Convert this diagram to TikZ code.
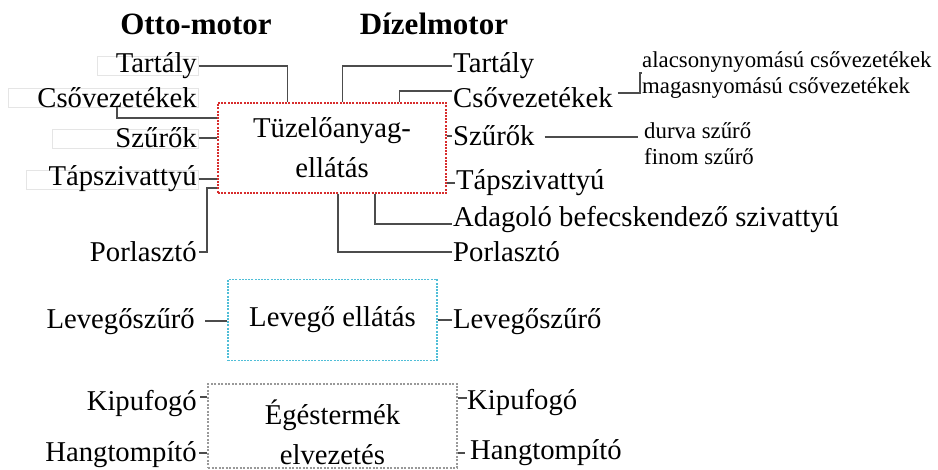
\documentclass[tikz,border=0pt]{standalone}
\usepackage{fontspec}
\setmainfont{Liberation Serif}
\begin{document}
\begin{tikzpicture}[x=1pt,y=-1pt,
  lbl/.style={inner sep=0pt, font=\fontsize{28.7}{40}\selectfont},
  sml/.style={inner sep=0pt, font=\fontsize{22.8}{26}\selectfont},
  ttl/.style={inner sep=0pt, font=\fontsize{31}{36}\selectfont\bfseries},
  conn/.style={draw=black!70, line width=1.1pt},
  ghost/.style={draw=black!10, line width=0.8pt},
  redbox/.style={draw={rgb,255:red,215;green,45;blue,45}, line width=1.4pt, dash pattern=on 2pt off 1.2pt, inner sep=0pt, align=center, font=\fontsize{28.7}{40}\selectfont},
  bluebox/.style={draw={rgb,255:red,80;green,190;blue,215}, line width=1.4pt, dash pattern=on 2pt off 1.2pt, inner sep=0pt, align=center, font=\fontsize{28.7}{40}\selectfont},
  graybox/.style={draw=black!40, line width=1.1pt, dash pattern=on 2pt off 1.5pt, inner sep=0pt},
]
\useasboundingbox (0,0) rectangle (938,470);

% titles
\node[ttl] (tOtto) at (196,24) {Otto-motor};
\node[ttl] (tDiz) at (434,24) {Dízelmotor};

% faint frames of left labels
\draw[ghost] (97,56) rectangle (198,75);
\draw[ghost] (8,88) rectangle (198,107);
\draw[ghost] (52,129) rectangle (198,148);
\draw[ghost] (26,170) rectangle (198,189);

% main boxes
\node[redbox, minimum width=228pt, minimum height=90pt] (fuel) at (332,148) {Tüzelőanyag-\\ellátás};
\node[bluebox, minimum width=209pt, minimum height=81pt] (air) at (332.5,320) {Levegő ellátás};
\node[graybox, minimum width=249pt, minimum height=84pt] (exh) at (332.5,426) {};
\node[lbl, align=center] (exhtxt) at (332.5,432) {Égéstermék\\elvezetés};

% left labels
\node[lbl, anchor=east] (lTart) at (197,66) {Tartály};
\node[lbl, anchor=east] (lCso) at (197,98) {Csővezetékek};
\node[lbl, anchor=east] (lSzu) at (197,138) {Szűrők};
\node[lbl, anchor=east] (lTap) at (197,179) {Tápszivattyú};
\node[lbl, anchor=east] (lPor) at (197,252) {Porlasztó};
\node[lbl, anchor=east] (lLev) at (195,322) {Levegőszűrő};
\node[lbl, anchor=east] (lKip) at (197,403) {Kipufogó};
\node[lbl, anchor=east] (lHang) at (197,455) {Hangtompító};

% right labels
\node[lbl, anchor=west] (rTart) at (453,66) {Tartály};
\node[lbl, anchor=west] (rCso) at (453,98) {Csővezetékek};
\node[lbl, anchor=west] (rSzu) at (453,136) {Szűrők};
\node[lbl, anchor=west] (rTap) at (456,183) {Tápszivattyú};
\node[lbl, anchor=west] (rAdag) at (453,219) {Adagoló befecskendező szivattyú};
\node[lbl, anchor=west] (rPor) at (453,252) {Porlasztó};
\node[lbl, anchor=west] (rLev) at (453,322) {Levegőszűrő};
\node[lbl, anchor=west] (rKip) at (467,402) {Kipufogó};
\node[lbl, anchor=west] (rHang) at (470,453) {Hangtompító};

% sub labels
\node[sml, anchor=west] (sAlac) at (642,62) {alacsonynyomású csővezetékek};
\node[sml, anchor=west] (sMag) at (642,88) {magasnyomású csővezetékek};
\node[sml, anchor=west] (sDur) at (644,131) {durva szűrő};
\node[sml, anchor=west] (sFin) at (644,157) {finom szűrő};

% helper coordinates
\coordinate (cCsoL) at (117,107);
\coordinate (yCso) at (0,118);
\coordinate (cPorL) at (207,188);
\coordinate (cAdag) at (375,224);
\coordinate (cPorR) at (338,252);
\coordinate (cCsoBend) at (640,93);
\coordinate (cCsoTop) at (640,73);
\coordinate (cSzuEnd) at (638,137);

% left connectors (fuel)
\draw[conn] ([xshift=2pt]lTart.east) -| ([xshift=70pt]fuel.north west);
\draw[conn] (cCsoL) |- (fuel.west |- yCso);
\draw[conn] ([xshift=2pt]lSzu.east) -- (lSzu.east -| fuel.west);
\draw[conn] ([xshift=2pt]lTap.east) -- (lTap.east -| fuel.west);
\draw[conn] ([xshift=2pt]lPor.east) -| (cPorL) -- (fuel.west |- cPorL);

% right connectors (fuel)
\draw[conn] ([xshift=-1pt]rTart.west) -| ([xshift=125pt]fuel.north west);
\draw[conn] ([xshift=-1pt,yshift=7pt]rCso.west) -| ([xshift=182pt]fuel.north west);
\draw[conn] ([xshift=-1pt]rSzu.west) -- (rSzu.west -| fuel.east);
\draw[conn] ([xshift=-1pt]rTap.west) -- (rTap.west -| fuel.east);
\draw[conn] (fuel.south west -| cAdag) |- ([xshift=-1pt]rAdag.west |- cAdag);
\draw[conn] (fuel.south west -| cPorR) |- ([xshift=-1pt]rPor.west);

% sub connectors
\draw[conn] ([xshift=5pt,yshift=5pt]rCso.east) -- (cCsoBend) -- (cCsoTop) -- (sAlac.west |- cCsoTop);
\draw[conn] ([xshift=10pt,yshift=-1pt]rSzu.east) -- (cSzuEnd);

% air
\draw[conn] ([xshift=10pt,yshift=1pt]lLev.east) -- (air.west |- {0,321});
\draw[conn] (air.east |- {0,320}) -- ([xshift=-1pt,yshift=2pt]rLev.west);

% exhaust
\draw[conn] ([xshift=3pt,yshift=6pt]lKip.east) -- (exh.west |- {0,397});
\draw[conn] ([xshift=2pt,yshift=2pt]lHang.east) -- (exh.west |- {0,453});
\draw[conn] (exh.east |- {0,398}) -- ([yshift=4pt]rKip.west);
\draw[conn] (exh.east |- {0,453}) -- ([xshift=-5pt]rHang.west);
\end{tikzpicture}
\end{document}
